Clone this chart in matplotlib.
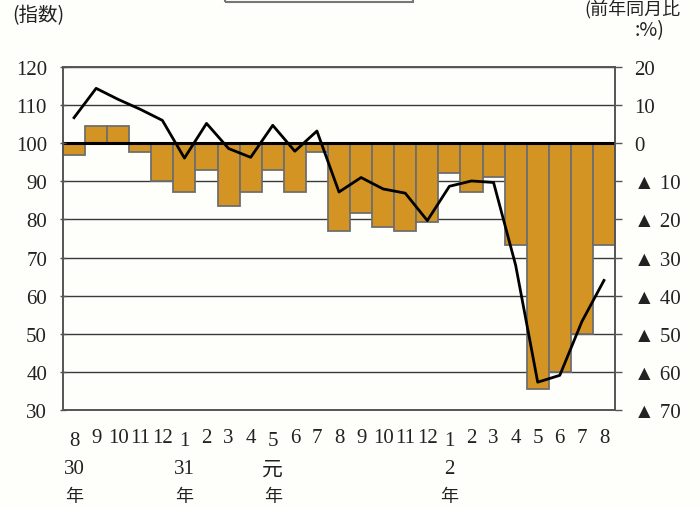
import matplotlib
matplotlib.use("Agg")
import matplotlib.pyplot as plt
import matplotlib.transforms as mtransforms
from matplotlib.patches import Rectangle

months = ['8', '9', '10', '11', '12', '1', '2', '3', '4', '5', '6', '7', '8',
          '9', '10', '11', '12', '1', '2', '3', '4', '5', '6', '7', '8']
year_labels = ['30', '31', '元', '2']
year_start_idx = [0, 5, 9, 17]

# 前年同月比 (%), right axis
yoy = [-3.2, 4.4, 4.4, -2.4, -10.0, -12.7, -6.9, -16.5, -12.7, -7.0, -12.7, -2.4,
       -23.0, -18.2, -22.0, -23.1, -20.8, -7.7, -12.7, -8.8, -26.6, -64.5, -60.0,
       -50.0, -26.7]
# 指数, left axis
index_vals = [106.7, 114.4, 111.5, 108.9, 106.0, 96.1, 105.2, 98.6, 96.3, 104.7,
              97.9, 103.2, 87.2, 91.0, 88.0, 86.9, 79.7, 88.7, 90.1, 89.7, 68.0,
              37.3, 39.1, 53.2, 64.0]

left_ticks = [30, 40, 50, 60, 70, 80, 90, 100, 110, 120]
right_ticks = [-70, -60, -50, -40, -30, -20, -10, 0, 10, 20]
right_labels = ['▲ 70', '▲ 60', '▲ 50', '▲ 40', '▲ 30', '▲ 20', '▲ 10', '0', '10', '20']

num_font = ['Liberation Serif', 'DejaVu Sans', 'Noto Sans CJK JP']
cjk_font = ['Noto Sans CJK JP', 'DejaVu Sans']
bg = '#fefefb'

fig = plt.figure(figsize=(7.0, 5.1), dpi=100, facecolor=bg)
ax = fig.add_axes([63 / 700, 1 - 411 / 510, (615 - 63) / 700, (411 - 68) / 510])
ax2 = ax.twinx()
ax.set_zorder(ax2.get_zorder() + 1)
ax.patch.set_visible(False)
ax2.set_facecolor(bg)

x = list(range(len(months)))

# bars on right axis
ax2.bar(x, yoy, width=1.0, color='#D39424', edgecolor='#6e6e6e', linewidth=1.3, zorder=2)
ax2.set_ylim(-70, 20)
ax2.set_yticks(right_ticks)
ax2.set_yticklabels(right_labels)
ax2.set_axisbelow(True)
ax2.grid(axis='y', color='#3a3a3a', linewidth=1.0, zorder=0)
ax2.axhline(0, color='black', linewidth=2.2, zorder=3)
ax2.tick_params(axis='y', direction='out', length=5, width=1, colors='#555555',
                labelcolor='#222222', pad=9)
for t in ax2.get_yticklabels():
    t.set_fontfamily(num_font)
    t.set_fontsize(15)

# line on left axis
ax.plot(x, index_vals, color='black', linewidth=2.0, zorder=5)
ax.set_ylim(30, 120)
ax.set_xlim(-0.5, len(months) - 0.5)
ax.set_yticks(left_ticks)
ax.set_yticklabels([str(v) for v in left_ticks])
ax.tick_params(axis='y', direction='inout', length=5, width=1, colors='#555555',
               labelcolor='#222222', pad=9)
for t in ax.get_yticklabels():
    t.set_fontfamily(num_font)
    t.set_fontsize(15)

ax.set_xticks(x)
ax.set_xticklabels(months)
ax.tick_params(axis='x', length=0, pad=13, labelcolor='#222222')
for i, t in enumerate(ax.get_xticklabels()):
    t.set_fontfamily(num_font)
    t.set_fontsize(15)
    if i in year_start_idx:
        t.set_y(-0.009)

for a in (ax, ax2):
    for s in a.spines.values():
        s.set_color('#555555')
        s.set_linewidth(1.2)

trans = mtransforms.blended_transform_factory(ax.transData, ax.transAxes)
for lbl, idx in zip(year_labels, year_start_idx):
    ax.text(idx, -0.170, lbl, transform=trans, ha='center', va='center',
            fontsize=15, family=num_font if lbl != '元' else cjk_font, color='#222222')
    ax.text(idx, -0.252, '年', transform=trans, ha='center', va='center',
            fontsize=13, family=cjk_font, color='#222222')

fig.text(12 / 700, 1 - 16 / 510, '(指数)', ha='left', va='center',
         fontsize=14, family=cjk_font, color='#222222')
fig.text(680 / 700, 1 - 9 / 510, '(前年同月比', ha='right', va='center',
         fontsize=13, family=cjk_font, color='#222222')
fig.text(664 / 700, 1 - 31 / 510, ':%)', ha='right', va='center',
         fontsize=14, family=cjk_font, color='#222222')

fig.patches.append(Rectangle((225 / 700, 1 - 3 / 510), (413 - 225) / 700, 0.05,
                             transform=fig.transFigure, fill=False,
                             edgecolor='#777777', linewidth=1.5))

fig.savefig('out.png', dpi=100, facecolor=bg)
